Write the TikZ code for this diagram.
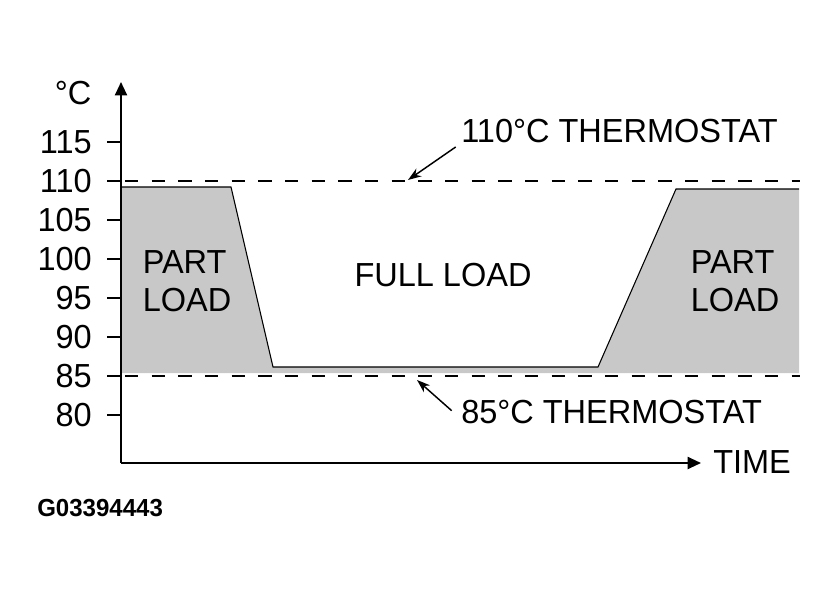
\documentclass[tikz,border=0pt]{standalone}
\usepackage{fontspec}
\setmainfont[FakeStretch=0.975]{Liberation Sans}
\usetikzlibrary{arrows.meta}
\definecolor{loadgray}{RGB}{200,200,200}

\begin{document}
\begin{tikzpicture}[x=0.75pt,y=-0.75pt,
    font=\fontsize{25}{28.5}\selectfont]
    \tikzstyle{limit}=[line width=1.5pt,dash pattern=on 10pt off 10pt]
    \tikzstyle{axis}=[line width=1.5pt,-{Triangle[length=10pt,width=9pt]}]
    \tikzstyle{pointer}=[line width=1.1pt,-{Stealth[length=10pt,width=7pt]}]
    \tikzstyle{ticklabel}=[anchor=east,inner sep=0pt]
    \useasboundingbox (0,0) rectangle (838,592);

    % load regions
    \fill[loadgray] (121,373) -- (121,187) -- (231,187) -- (273,367)
      -- (598,367) -- (676,189) -- (799,189) -- (799,373) -- cycle;
    \draw[line width=0.8pt] (121,187) -- (231,187) -- (273,367)
      -- (598,367) -- (676,189) -- (799,189);

    % thermostat limits
    \draw[limit] (125,181) -- (800,181);
    \draw[limit] (125,376) -- (800,376);

    % axes
    \coordinate (origin) at (121,463);
    \coordinate (ytip) at (121,82);
    \coordinate (xtip) at (701,463);
    \draw[axis] (origin) -- (ytip);
    \draw[axis] (origin) -- (xtip);
    \foreach \v in {80,85,...,115}{
      \draw[line width=1pt] (107,{181+(110-\v)*7.8}) -- (121,{181+(110-\v)*7.8});
      \node[ticklabel] (t\v) at (92,{181+(110-\v)*7.8}) {\v};
    }
    \node (unit) at (73,93) {°C};
    \node[anchor=west,inner sep=0pt] (time) at (713,462) {TIME};

    % labels
    \node (full) at (443,275) {FULL LOAD};
    \node[align=left] (partl) at (187,281) {PART\\LOAD};
    \node[align=left] (partr) at (735,281) {PART\\LOAD};
    \node[anchor=west,inner sep=0pt] (th110) at (461,131) {110°C THERMOSTAT};
    \node[anchor=west,inner sep=0pt] (th85) at (461,412) {85°C THERMOSTAT};
    \coordinate (p110) at (408,180);
    \coordinate (p85) at (417,380);
    \draw[pointer] ([xshift=-4pt,yshift=-12pt]th110.west) -- (p110);
    \draw[pointer] ([xshift=-7pt,yshift=1pt]th85.west) -- (p85);

    \node[anchor=west,inner sep=0pt,font=\fontsize{18.5}{18.5}\selectfont\bfseries] (code) at (37,508) {G03394443};
  \end{tikzpicture}
\end{document}
